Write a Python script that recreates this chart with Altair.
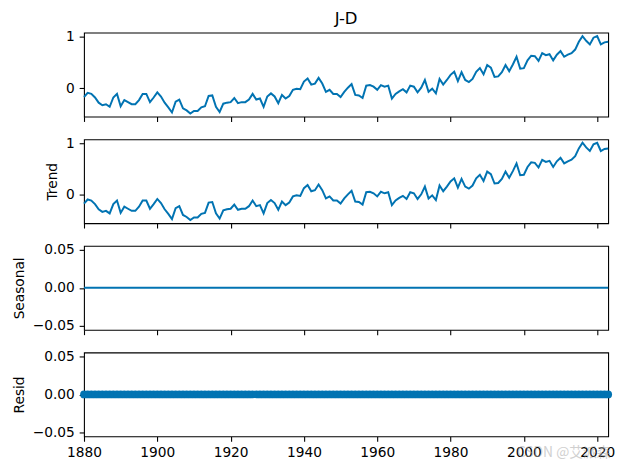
import altair as alt
import pandas as pd

years = list(range(1880, 2024))
jd = [
    -0.17, -0.09, -0.11, -0.18, -0.28, -0.33, -0.31, -0.36, -0.18, -0.11,
    -0.35, -0.23, -0.27, -0.31, -0.31, -0.23, -0.11, -0.11, -0.27, -0.18,
    -0.08, -0.16, -0.28, -0.37, -0.47, -0.26, -0.22, -0.39, -0.43, -0.49,
    -0.44, -0.44, -0.37, -0.35, -0.15, -0.14, -0.36, -0.46, -0.30, -0.28,
    -0.27, -0.19, -0.29, -0.27, -0.27, -0.22, -0.11, -0.22, -0.20, -0.36,
    -0.16, -0.10, -0.16, -0.29, -0.13, -0.20, -0.15, -0.03, -0.01, -0.02,
    0.13, 0.19, 0.07, 0.09, 0.20, 0.09, -0.07, -0.03, -0.11, -0.11,
    -0.17, -0.07, 0.01, 0.08, -0.13, -0.14, -0.19, 0.05, 0.06, 0.03,
    -0.03, 0.06, 0.03, 0.05, -0.20, -0.11, -0.06, -0.02, -0.08, 0.05,
    0.03, -0.08, 0.01, 0.16, -0.07, -0.01, -0.10, 0.18, 0.07, 0.16,
    0.26, 0.32, 0.14, 0.31, 0.16, 0.12, 0.18, 0.32, 0.39, 0.27,
    0.45, 0.40, 0.22, 0.23, 0.31, 0.45, 0.33, 0.46, 0.61, 0.38,
    0.39, 0.54, 0.63, 0.62, 0.53, 0.68, 0.64, 0.66, 0.54, 0.65,
    0.72, 0.61, 0.65, 0.68, 0.75, 0.90, 1.01, 0.92, 0.85, 0.98,
    1.01, 0.85, 0.89, 0.90,
]
trend = list(jd)
seasonal = [0.0] * len(years)
resid = [0.0] * len(years)
x_ticks = [1880, 1900, 1920, 1940, 1960, 1980, 2000, 2020]

df = pd.DataFrame({"year": years, "observed": jd, "trend": trend,
                   "seasonal": seasonal, "resid": resid})

COLOR = "#0173b2"
FONT = "DejaVu Sans"
W, H = 531, 85
TS = 4.9
FS = 13.9

def xenc(show_labels):
    return alt.X("year:Q",
                 scale=alt.Scale(domain=[1880, 2023], nice=False, zero=False),
                 axis=alt.Axis(values=x_ticks, labels=show_labels, format="d",
                               title=None, grid=False, domain=False,
                               tickSize=TS, tickWidth=1.1, tickColor="black",
                               labelPadding=TS, labelFontSize=FS, labelFont=FONT,
                               labelColor="black", labelFlush=False))

def yaxis(title, values, fmt):
    kw = dict(values=values, format=fmt, grid=False, domain=False,
              tickSize=TS, tickWidth=1.1, tickColor="black",
              labelPadding=TS, labelFontSize=FS, labelFont=FONT,
              labelColor="black", titleFontSize=FS, titleFont=FONT,
              titleFontWeight="normal", titleColor="black", titlePadding=6)
    kw["title"] = title
    return alt.Axis(**kw)

big_scale = alt.Scale(domain=[-0.55, 1.077], nice=False, zero=False)
small_scale = alt.Scale(domain=[-0.055, 0.055], nice=False, zero=False)

p1 = alt.Chart(df).mark_line(color=COLOR, strokeWidth=2).encode(
    x=xenc(False),
    y=alt.Y("observed:Q", scale=big_scale, axis=yaxis(None, [0, 1], "d")),
).properties(width=W, height=H,
             title=alt.TitleParams("J-D", fontSize=16.7, font=FONT,
                                   fontWeight="normal", color="black", offset=2))

p2 = alt.Chart(df).mark_line(color=COLOR, strokeWidth=2).encode(
    x=xenc(False),
    y=alt.Y("trend:Q", scale=big_scale, axis=yaxis("Trend", [0, 1], "d")),
).properties(width=W, height=H)

p3 = alt.Chart(df).mark_line(color=COLOR, strokeWidth=2).encode(
    x=xenc(False),
    y=alt.Y("seasonal:Q", scale=small_scale,
            axis=yaxis("Seasonal", [-0.05, 0, 0.05], ".2f")),
).properties(width=W, height=H)

r_line = alt.Chart(df).mark_line(color="black", strokeWidth=1).encode(
    x=xenc(True),
    y=alt.Y("resid:Q", scale=small_scale,
            axis=yaxis("Resid", [-0.05, 0, 0.05], ".2f")),
)
r_pts = alt.Chart(df).mark_circle(color=COLOR, size=62, opacity=1).encode(
    x=xenc(True),
    y=alt.Y("resid:Q", scale=small_scale),
)
wm = alt.Chart(pd.DataFrame({"t": ["CSDN @艾派森"]})).mark_text(
    font="Noto Sans CJK SC", fontSize=14, color="#aaaaaa", opacity=0.55,
    align="center", baseline="middle"
).encode(text="t:N", x=alt.value(486), y=alt.value(102))

p4 = alt.layer(r_line, r_pts, wm).properties(width=W, height=H)

chart = alt.vconcat(p1, p2, p3, p4, spacing=13).properties(
    padding={"left": 4, "top": -1, "right": 5, "bottom": 5}
).configure(background="white").configure_view(stroke="black", strokeWidth=1.1)

chart.save("out.html", embed_options={"renderer": "svg", "actions": False})
